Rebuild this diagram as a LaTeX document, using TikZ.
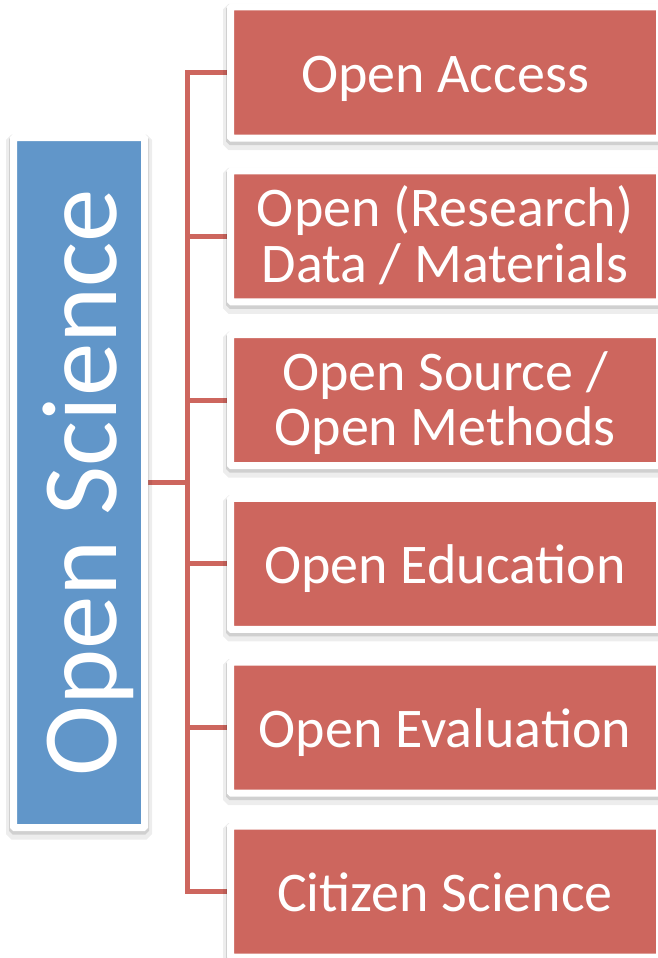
\documentclass[tikz,border=0pt]{standalone}
\usepackage{graphicx}
\usepackage{fontspec}
\setmainfont{Carlito}
\usetikzlibrary{backgrounds}
\definecolor{osblue}{RGB}{97,150,201}
\definecolor{osred}{RGB}{205,102,94}
\newcommand\twoline[2]{\vbox{\baselineskip=55.5pt\lineskiplimit=-100pt\halign{\hfil##\hfil\cr#1\cr#2\cr}}}
\begin{document}
\begin{tikzpicture}[x=1pt,y=-1pt,
  softshadow/.style={
    preaction={draw=black,draw opacity=0.07,line width=15pt,transform canvas={yshift=-4.5pt}},
    preaction={draw=black,draw opacity=0.12,line width=9pt,transform canvas={yshift=-2.5pt}}},
  framed/.style={softshadow, draw=white, line width=7pt, rounded corners=1pt, inner sep=0pt},
  redbox/.style={framed, fill=osred, minimum width=429pt, minimum height=131pt, text=white,
    font=\fontsize{56}{55.5}\selectfont, text depth=0pt, text height=40pt},
  redboxtwo/.style={redbox, text height=91.5pt},
  bluebox/.style={framed, fill=osblue, minimum width=131pt, minimum height=690pt, text=white,
    font=\fontsize{107}{120}\selectfont},
  conn/.style={draw=osred, line width=5pt, line join=miter}]
\useasboundingbox (0,0) rectangle (658,958);

\node[bluebox] (os) at (79,482.5) {\rotatebox{90}{\raisebox{0pt}[75.9pt][0pt]{Open Science}}};

\node[redbox]    (b1) at (445,72.5)  {Open Access};
\node[redboxtwo] (b2) at (445,236.3) {\twoline{Open (Research)}{Data / Materials}};
\node[redboxtwo] (b3) at (445,400.1) {\twoline{Open Source /}{Open Methods}};
\node[redbox]    (b4) at (445,563.9) {Open Education};
\node[redbox]    (b5) at (445,727.7) {Open Evaluation};
\node[redbox]    (b6) at (445,891.5) {Citizen Science};

\coordinate (sp) at (187.5,0);
\begin{scope}[on background layer]
\fill[white] (0,0) rectangle (658,958);
\draw[conn] (b1.west) -- (b1.west -| sp) -- (b6.west -| sp) -- (b6.west);
\foreach \i in {2,...,5} \draw[conn] (b\i.west) -- (b\i.west -| sp);
\draw[conn] (os.east) -- (os.east -| sp);
\end{scope}
\end{tikzpicture}
\end{document}
